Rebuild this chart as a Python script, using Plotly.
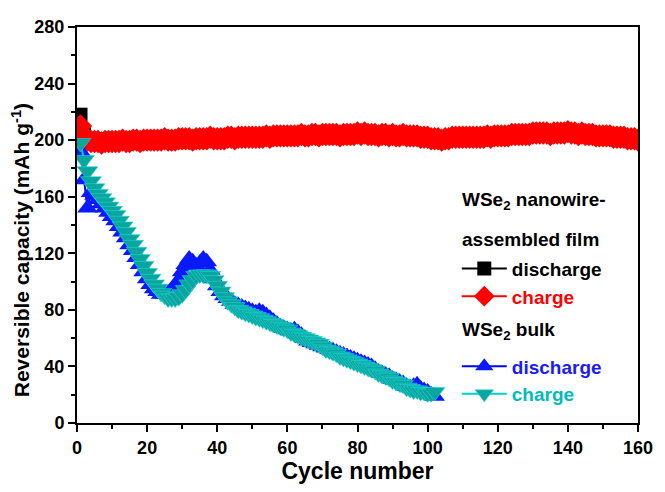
import plotly.graph_objects as go

# ---------------- data ----------------
film_charge = [
    210, 203, 200, 199, 199, 199, 198, 199, 199, 199,
    199, 199, 200, 199, 199, 200, 200, 199, 200, 200,
    200, 200, 200, 200, 201, 200, 200, 200, 201, 201,
    201, 201, 200, 201, 201, 201, 201, 202, 201, 201,
    201, 201, 202, 202, 201, 202, 202, 202, 202, 202,
    202, 202, 202, 203, 202, 203, 203, 203, 203, 203,
    203, 203, 203, 204, 203, 203, 204, 204, 203, 204,
    204, 204, 204, 204, 203, 204, 204, 204, 204, 205,
    204, 205, 204, 204, 204, 203, 204, 204, 203, 204,
    203, 203, 204, 203, 203, 203, 203, 202, 202, 202,
    201, 201, 201, 200, 201, 201, 202, 202, 202, 202,
    202, 202, 202, 202, 202, 202, 203, 202, 203, 203,
    203, 203, 203, 204, 204, 204, 204, 204, 204, 205,
    205, 205, 205, 205, 204, 205, 205, 205, 205, 206,
    205, 205, 204, 205, 204, 204, 204, 203, 203, 203,
    203, 203, 202, 202, 202, 202, 201, 201, 201, 200,
]
film_discharge = [
    218, 204, 201, 200, 200, 200, 199, 200, 200, 200,
    200, 200, 200, 200, 200, 201, 200, 200, 201, 200,
    201, 201, 200, 201, 201, 201, 201, 201, 201, 202,
    201, 202, 201, 201, 202, 202, 202, 202, 202, 202,
    202, 202, 202, 203, 202, 202, 203, 203, 202, 203,
    203, 203, 203, 203, 203, 203, 203, 204, 203, 204,
    204, 204, 204, 204, 204, 204, 204, 205, 204, 204,
    205, 205, 204, 205, 204, 205, 205, 205, 205, 205,
    205, 205, 205, 205, 204, 204, 204, 205, 204, 204,
    204, 204, 204, 204, 204, 203, 203, 203, 203, 202,
    202, 202, 201, 201, 201, 202, 202, 202, 203, 203,
    203, 203, 203, 203, 203, 203, 203, 203, 204, 204,
    204, 204, 204, 204, 205, 205, 205, 205, 205, 205,
    206, 206, 206, 205, 205, 206, 206, 206, 206, 206,
    206, 206, 205, 205, 205, 205, 205, 204, 204, 204,
    204, 204, 203, 203, 203, 203, 202, 202, 202, 201,
]
bulk_discharge = [
    192, 172, 152, 163, 161, 158, 155, 152, 149, 146,
    143, 139, 135, 131, 126, 122, 117, 112, 107, 102,
    98, 95, 93, 91, 91, 92, 94, 97, 101, 107,
    112, 116, 114, 111, 113, 116, 114, 108, 102, 97,
    93, 90, 88, 86, 84, 83, 82, 81, 80, 79,
    78, 79, 78, 76, 74, 72, 70, 68, 67, 66,
    65, 66, 64, 62, 60, 58, 57, 56, 55, 54,
    53, 52, 51, 50, 49, 48, 47, 46, 45, 44,
    43, 42, 41, 40, 38, 36, 35, 34, 33, 31,
    30, 29, 28, 26, 25, 26, 27, 24, 23, 22,
    20, 19,
]
bulk_charge = [
    198, 186, 178, 171, 166, 162, 159, 156, 153, 150,
    147, 143, 139, 135, 130, 126, 121, 116, 111, 106,
    102, 98, 95, 92, 90, 88, 88, 88, 89, 91,
    94, 98, 101, 104, 105, 105, 105, 104, 101, 97,
    93, 89, 86, 84, 82, 80, 79, 78, 77, 76,
    75, 74, 73, 72, 71, 70, 69, 68, 67, 66,
    64, 63, 62, 61, 60, 59, 58, 57, 56, 54,
    52, 51, 50, 49, 47, 46, 45, 44, 43, 42,
    41, 40, 39, 38, 37, 35, 34, 33, 32, 30,
    29, 28, 27, 25, 24, 23, 23, 22, 22, 21,
    21, 22,
]
film_cycles = list(range(1, len(film_charge) + 1))
bulk_cycles = list(range(1, len(bulk_charge) + 1))

x_ticks = [0, 20, 40, 60, 80, 100, 120, 140, 160]
y_ticks = [0, 40, 80, 120, 160, 200, 240, 280]

FONT = "Liberation Sans, Arial, sans-serif"

fig = go.Figure()
fig.add_trace(go.Scatter(
    x=film_cycles, y=film_discharge, mode="lines+markers",
    name="discharge", legend="legend",
    line=dict(color="black", width=2),
    marker=dict(symbol="square", size=14, color="black", line=dict(width=0)),
))
fig.add_trace(go.Scatter(
    x=film_cycles, y=film_charge, mode="lines+markers",
    name='<span style="color:#ff0000">charge</span>', legend="legend",
    line=dict(color="#ff0000", width=2),
    marker=dict(symbol="diamond", size=18, color="#ff0000", line=dict(width=0)),
))
fig.add_trace(go.Scatter(
    x=bulk_cycles, y=bulk_discharge, mode="lines+markers",
    name='<span style="color:#1a1aff">discharge</span>', legend="legend2",
    line=dict(color="#0000ff", width=2),
    marker=dict(symbol="triangle-up", size=18, color="#0a1aff", line=dict(width=0)),
))
fig.add_trace(go.Scatter(
    x=bulk_cycles, y=bulk_charge, mode="lines+markers",
    name='<span style="color:#00bcbc">charge</span>', legend="legend2",
    line=dict(color="#00d0d0", width=2),
    marker=dict(symbol="triangle-down", size=18, color="#0aa59e",
                line=dict(width=0.6, color="#20d8d8")),
))

axis_common = dict(
    showline=True, linecolor="black", linewidth=2, mirror=True,
    ticks="outside", ticklen=7, tickwidth=2, tickcolor="black",
    showgrid=False, zeroline=False,
    tickfont=dict(family=FONT, size=18, color="black", weight="bold"),
)

legend_common = dict(
    xanchor="left", yanchor="middle", bgcolor="rgba(0,0,0,0)",
    font=dict(family=FONT, size=19, color="black", weight="bold"),
    itemwidth=45, tracegroupgap=0,
)

fig.update_layout(
    width=665, height=492,
    margin=dict(l=77, r=17, t=27, b=66),
    paper_bgcolor="white", plot_bgcolor="white",
    font=dict(family=FONT, color="black"),
    xaxis=dict(
        range=[0, 160], tickvals=x_ticks,
        minor=dict(ticks="outside", ticklen=4, tickwidth=2, tickcolor="black", dtick=10),
        title=dict(text="Cycle number",
                   font=dict(family=FONT, size=23, weight="bold"), standoff=6),
        **axis_common,
    ),
    yaxis=dict(
        range=[0, 280], tickvals=y_ticks,
        minor=dict(ticks="outside", ticklen=4, tickwidth=2, tickcolor="black", dtick=20),
        **axis_common,
    ),
    legend=dict(x=0.677, y=0.3546, **legend_common),
    legend2=dict(x=0.677, y=0.1078, **legend_common),
    showlegend=True,
    annotations=[
        dict(text="Reversible capacity (mAh g<sup>-1</sup>)", textangle=-90,
             xref="paper", yref="paper", x=-0.1, y=0.436,
             xanchor="center", yanchor="middle", showarrow=False,
             font=dict(family=FONT, size=21, weight="bold", color="black")),
        dict(text="WSe<sub>2</sub> nanowire-", xref="paper", yref="paper",
             x=0.683, y=0.5614, xanchor="left", yanchor="middle", showarrow=False,
             font=dict(family=FONT, size=19, weight="bold", color="black")),
        dict(text="assembled film", xref="paper", yref="paper",
             x=0.683, y=0.4637, xanchor="left", yanchor="middle", showarrow=False,
             font=dict(family=FONT, size=19, weight="bold", color="black")),
        dict(text="WSe<sub>2</sub> bulk", xref="paper", yref="paper",
             x=0.683, y=0.232, xanchor="left", yanchor="middle", showarrow=False,
             font=dict(family=FONT, size=19, weight="bold", color="black")),
    ],
)

fig.write_html("out.html")
